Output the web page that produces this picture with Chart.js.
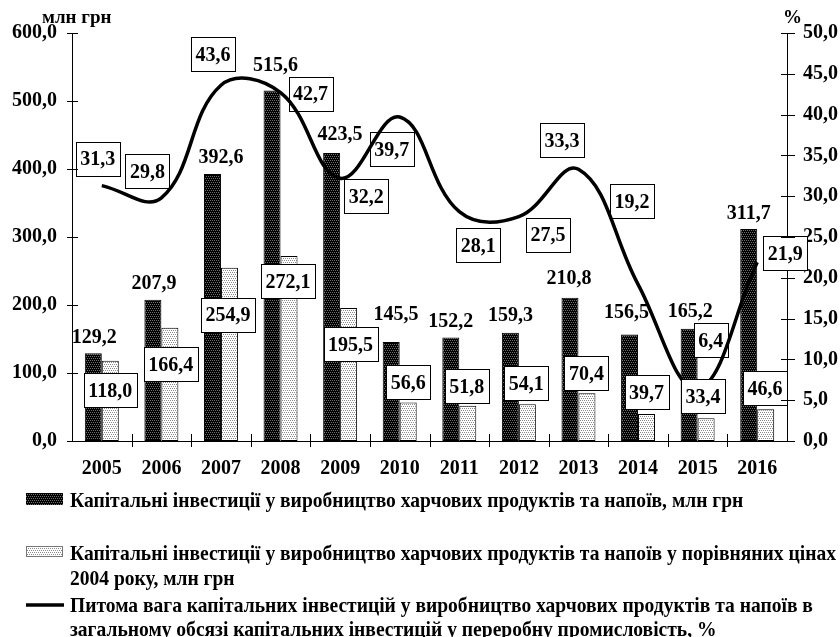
<!DOCTYPE html>
<html><head><meta charset="utf-8">
<script src="https://cdn.jsdelivr.net/npm/chart.js@4.4.0/dist/chart.umd.min.js"></script>
<style>html,body{margin:0;padding:0;background:#fff;}canvas{display:block;}</style>
</head><body>
<canvas id="c" width="840" height="637"></canvas>
<script>
const years = ['2005','2006','2007','2008','2009','2010','2011','2012','2013','2014','2015','2016'];
const investNominal = [129.2,207.9,392.6,515.6,423.5,145.5,152.2,159.3,210.8,156.5,165.2,311.7];
const investComparable = [118.0,166.4,254.9,272.1,195.5,56.6,51.8,54.1,70.4,39.7,33.4,46.6];
const sharePercent = [31.3,29.8,43.6,42.7,32.2,39.7,28.1,27.5,33.3,19.2,6.4,21.9];
const leftAxisTitle = 'млн грн';
const rightAxisTitle = '%';
const legendNominal = ['Капітальні інвестиції у виробництво харчових продуктів та напоїв, млн грн'];
const legendComparable = ['Капітальні інвестиції у виробництво харчових продуктів та напоїв у порівняних цінах','2004 року, млн грн'];
const legendShare = ['Питома вага капітальних інвестицій у виробництво харчових продуктів та напоїв в','загальному обсязі капітальних інвестицій у переробну промисловість, %'];

// manual label placement (pixels, relative to the data point)
const nominalLabelDx = [1,1,8.5,3.4,8.4,4.8,0,0,-1,-3,1,0];
const nominalLabelDy = [-17,-17,-17.5,-26,-19.5,-29,-17.5,-18,-20,-23,-18,-17];
const comparableLabelDx = [0,1,-1.5,-1,2,0,-1,-1,-0.5,0,-3,-0.7];
const comparableLabelDy = [29,36,47,25,36,-20.5,-20,-21,-20,-22,-22,-21];
const shareLabelDx = [-4,-14,-8,30,26,-8,19,29,-16.5,-6,13,28];
const shareLabelDy = [-27,-27,-31,1,18,32,33,18,-29,-83,-49,-9];

const FONT = "'Liberation Serif','Times New Roman',serif";
Chart.defaults.font.family = FONT;
Chart.defaults.color = '#000';

function makePattern(bg, fg){
  const p = document.createElement('canvas'); p.width = 4; p.height = 4;
  const g = p.getContext('2d');
  g.fillStyle = bg; g.fillRect(0,0,4,4);
  g.fillStyle = fg;
  [[0,0],[2,0],[1,2],[3,2]].forEach(([a,b])=>g.fillRect(a,b,1,1));
  return document.getElementById('c').getContext('2d').createPattern(p,'repeat');
}
const darkPat = makePattern('#000','#6e6e6e');
const lightPat = makePattern('#fff','#8a8a8a');
const fmt = v => Number(v).toFixed(1).replace('.', ',');

function drawBox(ctx, text, cx, cy){
  ctx.font = 'bold 20px ' + FONT;
  const tw = ctx.measureText(text).width;
  const w = Math.round(tw + 9), h = 34;
  const x = Math.round(cx - w/2) + 0.5, y = Math.round(cy - h/2) + 0.5;
  ctx.fillStyle = '#fff'; ctx.fillRect(x, y, w, h);
  ctx.strokeStyle = '#000'; ctx.lineWidth = 1; ctx.strokeRect(x, y, w, h);
  ctx.fillStyle = '#000'; ctx.textAlign = 'center'; ctx.textBaseline = 'alphabetic';
  ctx.fillText(text, cx, cy + 6.8);
}

const labelPlugin = {
  id: 'labels',
  beforeDatasetDraw(chart, args){
    if (args.index !== 2) return;
    const ctx = chart.ctx; ctx.save();
    chart.getDatasetMeta(2).data.forEach((pt, i) => {
      drawBox(ctx, fmt(sharePercent[i]), pt.x + shareLabelDx[i], pt.y + shareLabelDy[i]);
    });
    ctx.restore();
  },
  afterDatasetsDraw(chart){
    const ctx = chart.ctx; ctx.save();
    ctx.font = 'bold 20px ' + FONT; ctx.fillStyle = '#000';
    ctx.textAlign = 'center'; ctx.textBaseline = 'alphabetic';
    chart.getDatasetMeta(0).data.forEach((b, i) => {
      ctx.fillText(fmt(investNominal[i]), b.x + nominalLabelDx[i], b.y + nominalLabelDy[i] + 6.8);
    });
    chart.getDatasetMeta(1).data.forEach((b, i) => {
      drawBox(ctx, fmt(investComparable[i]), b.x + comparableLabelDx[i], b.y + comparableLabelDy[i]);
    });
    ctx.restore();
  },
  afterDraw(chart){
    const ctx = chart.ctx, a = chart.chartArea;
    const {x, y, y2} = chart.scales;
    ctx.save();
    ctx.strokeStyle = '#000'; ctx.lineWidth = 1;
    ctx.beginPath();
    y.ticks.forEach(t => { const py = Math.round(y.getPixelForValue(t.value)) + 0.5; ctx.moveTo(a.left - 5, py); ctx.lineTo(a.left + 6, py); });
    y2.ticks.forEach(t => { const py = Math.round(y2.getPixelForValue(t.value)) + 0.5; ctx.moveTo(a.right - 6, py); ctx.lineTo(a.right + 8, py); });
    const n = years.length;
    for (let i = 1; i < n; i++) {
      const px = Math.round((x.getPixelForValue(i-1) + x.getPixelForValue(i)) / 2) + 0.5;
      ctx.moveTo(px, a.bottom - 7); ctx.lineTo(px, a.bottom + 6);
    }
    ctx.stroke();
    // axis titles
    ctx.fillStyle = '#000'; ctx.font = 'bold 19px ' + FONT; ctx.textBaseline = 'alphabetic';
    ctx.textAlign = 'left';
    ctx.fillText(leftAxisTitle, 42, 23);
    ctx.fillText(rightAxisTitle, 783, 23);
    // legend
    ctx.font = 'bold 21px ' + FONT;
    const sx = 766 / ctx.measureText(legendComparable[0]).width;
    const txt = (s, tx, ty) => { ctx.save(); ctx.translate(tx, ty); ctx.scale(sx, 1); ctx.fillText(s, 0, 0); ctx.restore(); };
    ctx.fillStyle = darkPat; ctx.fillRect(26, 493, 37, 12);
    ctx.fillStyle = lightPat; ctx.fillRect(26, 546, 37, 11);
    ctx.strokeStyle = '#777'; ctx.strokeRect(26.5, 546.5, 36, 10);
    ctx.strokeStyle = '#000'; ctx.lineWidth = 3.5;
    ctx.beginPath(); ctx.moveTo(26, 605); ctx.lineTo(64, 605); ctx.stroke();
    ctx.fillStyle = '#000';
    txt(legendNominal[0], 70, 507);
    txt(legendComparable[0], 70, 560);
    txt(legendComparable[1], 70, 585);
    txt(legendShare[0], 70, 612);
    txt(legendShare[1], 70, 636);
    ctx.restore();
  }
};

const noGrid = { display: false, drawTicks: false, tickLength: 0 };
new Chart(document.getElementById('c'), {
  type: 'bar',
  data: {
    labels: years,
    datasets: [
      { label: legendNominal[0], data: investNominal, backgroundColor: darkPat, borderColor: '#000', borderWidth: 1, borderSkipped: false, yAxisID: 'y', order: 1, categoryPercentage: 0.57, barPercentage: 1.0 },
      { label: legendComparable.join(' '), data: investComparable, backgroundColor: lightPat, borderColor: '#000', borderWidth: 1, borderSkipped: false, yAxisID: 'y', order: 1, categoryPercentage: 0.57, barPercentage: 1.0 },
      { type: 'line', label: legendShare.join(' '), data: sharePercent, borderColor: '#000', borderWidth: 3.5, pointRadius: 0, tension: 0.4, fill: false, yAxisID: 'y2', order: 0 }
    ]
  },
  options: {
    responsive: false, animation: false, devicePixelRatio: 1,
    layout: { padding: { top: 33, left: 0, right: 0, bottom: 0 } },
    plugins: { legend: { display: false }, tooltip: { enabled: false }, title: { display: false } },
    scales: {
      x: {
        grid: noGrid, border: { display: true, color: '#000', width: 1 },
        ticks: { font: { size: 20, weight: 'bold' }, color: '#000', padding: 16, maxRotation: 0, autoSkip: false },
        afterFit: s => { s.height = 196; }
      },
      y: {
        position: 'left', min: 0, max: 600,
        grid: noGrid, border: { display: true, color: '#000', width: 1 },
        ticks: { stepSize: 100, font: { size: 20, weight: 'bold' }, color: '#000', padding: 15, callback: v => fmt(v) },
        afterFit: s => { s.width = 72; }
      },
      y2: {
        position: 'right', min: 0, max: 50,
        grid: noGrid, border: { display: true, color: '#000', width: 1 },
        ticks: { stepSize: 5, font: { size: 20, weight: 'bold' }, color: '#000', padding: 16, callback: v => fmt(v) },
        afterFit: s => { s.width = 53; }
      }
    }
  },
  plugins: [labelPlugin]
});
</script>
</body></html>
